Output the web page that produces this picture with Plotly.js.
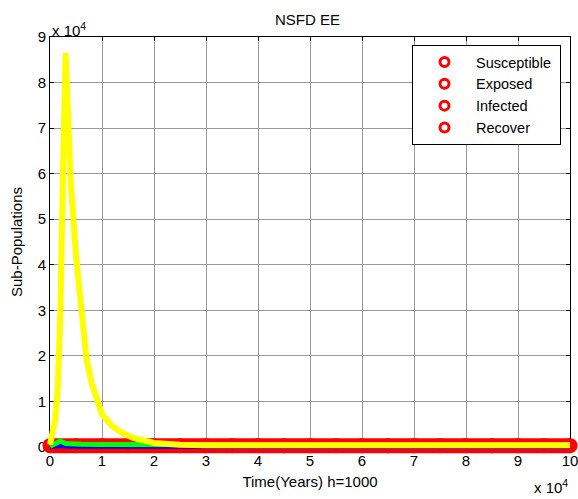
<!DOCTYPE html>
<html>
<head>
<meta charset="utf-8">
<script src="https://cdn.plot.ly/plotly-3.0.1.min.js"></script>
<style>html,body{margin:0;padding:0;background:#fff;}#chart{width:578px;height:499px;}</style>
</head>
<body>
<div id="chart"></div>
<script>
// Time (years) on the h=1000 grid
var tRecover = [0, 5000, 10000, 15000, 20000, 25000, 30000, 35000, 40000, 45000, 50000,
  55000, 60000, 65000, 70000, 75000, 80000, 85000, 90000, 95000, 100000];
var recoverVals = [300, 300, 300, 300, 300, 300, 300, 300, 300, 300, 300,
  300, 300, 300, 300, 300, 300, 300, 300, 300, 300];

var tExposed = [0, 1000, 1500, 2000, 3000, 4000, 6000, 10000, 20000, 50000, 100000];
var exposedVals = [0, 150, 250, 200, 100, 60, 40, 30, 30, 30, 30];

var tInfected = [0, 1000, 2000, 3000, 4000, 6000, 10000, 15000, 20000, 50000, 100000];
var infectedVals = [150, 600, 1300, 750, 650, 600, 550, 520, 500, 450, 420];

var tSusceptible = [0, 500, 1000, 1500, 2000, 2500, 3000, 3500, 4000, 5000, 6000, 7000, 8000, 9000, 10000, 12000, 14000, 16000, 18000, 20000, 25000, 30000, 50000, 100000];
var susceptibleVals = [500, 3000, 6000, 13000, 30000, 60000, 86500, 72000, 58000, 42000, 29000, 19500, 14000, 10000, 7200, 4500, 3000, 2000, 1300, 900, 500, 400, 400, 400];

var legendNames = ["Susceptible", "Exposed", "Infected", "Recover"];

var xTickVals = [0, 10000, 20000, 30000, 40000, 50000, 60000, 70000, 80000, 90000, 100000];
var xTickText = ["0", "1", "2", "3", "4", "5", "6", "7", "8", "9", "10"];
var yTickVals = [0, 10000, 20000, 30000, 40000, 50000, 60000, 70000, 80000, 90000];
var yTickText = ["0", "1", "2", "3", "4", "5", "6", "7", "8", "9"];

var FONT = "Liberation Sans, Arial, sans-serif";
var FS = 15;

// Plot area: margins l=40,r=0,t=30,b=40 -> 538 x 429 px
// visible axes box: x 50..570, y 37..447 px; data drawn on an unclipped wider overlay
var X_MAIN = [10 / 538, 530 / 538];
var Y_MAIN = [12 / 429, 422 / 429];
var xPerPx = 100000 / 520, yPerPx = 90000 / 410;
var X2_RANGE = [0 - 10 * xPerPx, 100000 + 8 * xPerPx];
var Y2_RANGE = [0 - 12 * yPerPx, 90000 + 7 * yPerPx];

var traces = [
  {x: tRecover, y: recoverVals, xaxis: "x2", yaxis: "y2", mode: "lines+markers", showlegend: false,
   line: {color: "#ff0000", width: 15}, marker: {color: "#ff0000", size: 15, line: {width: 0}}},
  {x: tExposed, y: exposedVals, xaxis: "x2", yaxis: "y2", mode: "lines", showlegend: false,
   line: {color: "#0000ff", width: 4}},
  {x: tInfected, y: infectedVals, xaxis: "x2", yaxis: "y2", mode: "lines", showlegend: false,
   line: {color: "#00ff00", width: 5}},
  {x: tSusceptible, y: susceptibleVals, xaxis: "x2", yaxis: "y2", mode: "lines", showlegend: false,
   line: {color: "#ffff00", width: 6}}
];
legendNames.forEach(function (n, i) {
  traces.push({x: [null], y: [null], name: i === 0 ? n + "\u00a0" : n, mode: "markers", showlegend: true,
    marker: {color: "#ffffff", size: 9, line: {color: "#ff0000", width: 3}}});
});

var axBase = {
  showgrid: true, gridcolor: "#9a9a9a", gridwidth: 1, zeroline: false,
  showline: true, linecolor: "#000", linewidth: 1, mirror: "ticks",
  ticks: "inside", ticklen: 4, tickcolor: "#000", ticklabeloverflow: "allow",
  tickfont: {family: FONT, size: FS}
};

var layout = {
  width: 578, height: 499,
  margin: {l: 40, r: 0, t: 30, b: 40},
  paper_bgcolor: "#ffffff", plot_bgcolor: "rgba(0,0,0,0)",
  font: {family: FONT, size: FS, color: "#000"},
  title: {text: "NSFD EE", font: {family: FONT, size: FS, color: "#000"}, x: 0.532, xanchor: "center", y: 0.96, yanchor: "middle"},
  xaxis: Object.assign({}, axBase, {
    domain: X_MAIN, anchor: "y",
    range: [0, 100000], tickvals: xTickVals, ticktext: xTickText,
    title: {text: "Time(Years) h=1000", font: {family: FONT, size: FS}, standoff: 8}
  }),
  yaxis: Object.assign({}, axBase, {
    domain: Y_MAIN, anchor: "x",
    range: [0, 90000], tickvals: yTickVals, ticktext: yTickText,
    title: {text: "Sub-Populations", font: {family: FONT, size: FS}, standoff: 11}
  }),
  xaxis2: {domain: [0, 1], anchor: "y2", range: X2_RANGE, visible: false, showgrid: false, zeroline: false},
  yaxis2: {domain: [0, 1], anchor: "x2", range: Y2_RANGE, visible: false, showgrid: false, zeroline: false},
  legend: {
    x: 372 / 538, y: (459 - 45) / 429, xanchor: "left", yanchor: "top",
    bgcolor: "#ffffff", bordercolor: "#000", borderwidth: 1,
    font: {family: FONT, size: 14.5}, itemwidth: 53
  },
  annotations: [
    {text: "x 10<sup>4</sup>", xref: "paper", yref: "paper", x: X_MAIN[0], y: Y_MAIN[1], xanchor: "left", yanchor: "bottom", showarrow: false, font: {family: FONT, size: FS}, yshift: -4},
    {text: "x 10<sup>4</sup>", xref: "paper", yref: "paper", x: X_MAIN[1], y: Y_MAIN[0], xanchor: "right", yanchor: "top", showarrow: false, font: {family: FONT, size: FS}, yshift: -28}
  ],
  showlegend: true
};

Plotly.newPlot("chart", traces, layout, {displayModeBar: false, staticPlot: true});
</script>
</body>
</html>
